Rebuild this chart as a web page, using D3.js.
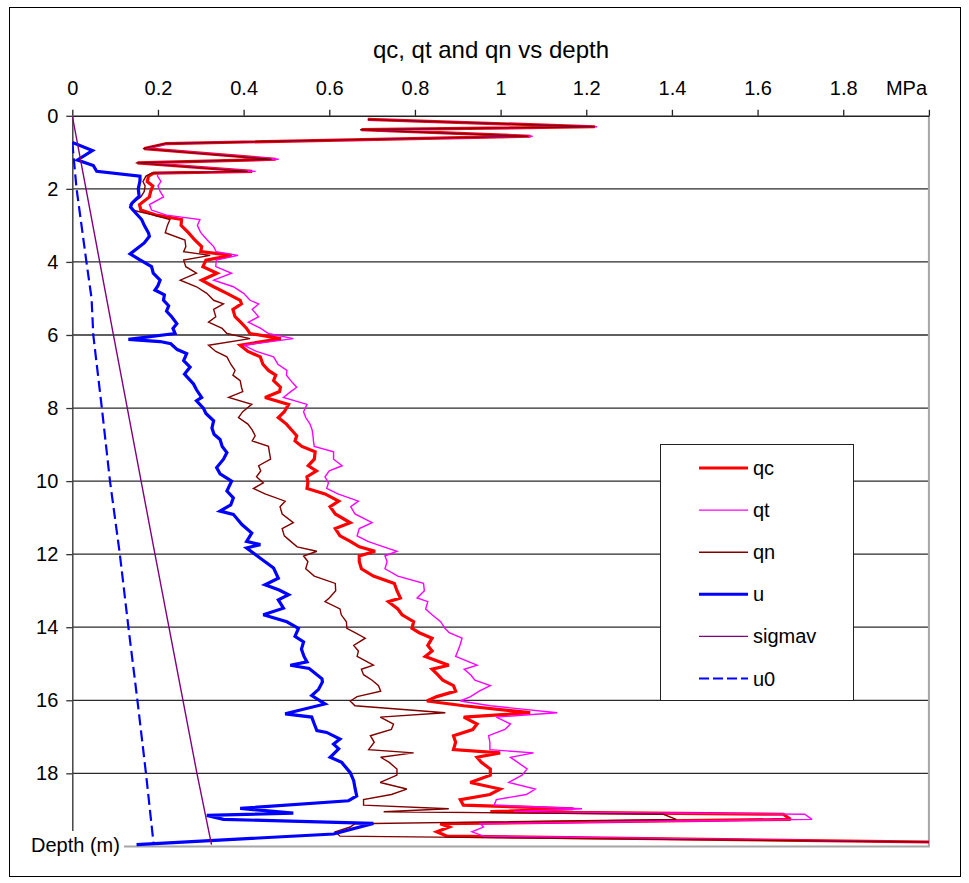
<!DOCTYPE html>
<html><head><meta charset="utf-8">
<script src="https://cdn.jsdelivr.net/npm/d3@7"></script>
<style>
body{margin:0;background:#fff}
svg{display:block}
text{font-family:"Liberation Sans",Arial,sans-serif;fill:#000}
</style>
</head><body>
<svg id="c" width="969" height="883"></svg>
<script>
// ---------- data ----------
const title = "qc, qt and qn vs depth";
const xTicks = [0, 0.2, 0.4, 0.6, 0.8, 1, 1.2, 1.4, 1.6, 1.8, 2];
const xTickLabels = ["0", "0.2", "0.4", "0.6", "0.8", "1", "1.2", "1.4", "1.6", "1.8", ""];
const xUnit = "MPa";
const yTicks = [0, 2, 4, 6, 8, 10, 12, 14, 16, 18];
const yTitle = "Depth (m)";
const seriesNames = ["qc", "qt", "qn", "u", "sigmav", "u0"];

const depth = [
  0.1, 0.3, 0.38, 0.56, 0.76, 0.9, 1.19, 1.29, 1.52, 1.57, 1.65,
  1.8, 1.92, 2.07, 2.22, 2.43, 2.58, 2.72, 2.84, 3.0, 3.2,
  3.4, 3.58, 3.72, 3.82, 3.95, 4.13, 4.31, 4.5, 4.68, 4.86,
  5.05, 5.15, 5.3, 5.5, 5.65, 5.82, 5.96, 6.1, 6.28, 6.45,
  6.6, 6.8, 6.97, 7.1, 7.25, 7.43, 7.55, 7.71, 7.9, 8.1,
  8.26, 8.44, 8.6, 8.76, 8.9, 9.05, 9.2, 9.4, 9.58, 9.72,
  9.88, 10.05, 10.2, 10.35, 10.55, 10.7, 10.9, 11.14, 11.3, 11.5,
  11.65, 11.8, 11.92, 12.05, 12.2, 12.4, 12.6, 12.8, 13.0, 13.2,
  13.3, 13.5, 13.66, 13.85, 14.03, 14.15, 14.3, 14.5, 14.65, 14.8,
  15.04, 15.15, 15.3, 15.45, 15.6, 15.75, 15.9, 16.02, 16.15, 16.34,
  16.46, 16.65, 16.8, 16.97, 17.15, 17.35, 17.44, 17.56, 17.7, 17.88,
  18.05, 18.25, 18.43, 18.58, 18.72, 18.87, 18.97, 19.05, 19.12, 19.26,
  19.38, 19.47, 19.6, 19.72, 19.88
];
const qc = [
  0.69, 1.22, 0.675, 1.07, 0.22, 0.168, 0.475, 0.152, 0.42, 0.19, 0.178,
  0.175, 0.188, 0.183, 0.18, 0.157, 0.16, 0.197, 0.255, 0.254, 0.271,
  0.286, 0.302, 0.30, 0.372, 0.312, 0.305, 0.338, 0.302, 0.33, 0.361,
  0.392, 0.395, 0.375, 0.38, 0.393, 0.407, 0.415, 0.487, 0.392, 0.41,
  0.439, 0.445, 0.458, 0.475, 0.47, 0.486, 0.484, 0.45, 0.505, 0.495,
  0.481, 0.5, 0.512, 0.524, 0.52, 0.536, 0.567, 0.565, 0.551, 0.57,
  0.548, 0.55, 0.548, 0.59, 0.622, 0.602, 0.614, 0.649, 0.614, 0.625,
  0.649, 0.67, 0.707, 0.67, 0.67, 0.675, 0.703, 0.752, 0.758, 0.766,
  0.738, 0.76, 0.77, 0.797, 0.793, 0.81, 0.84, 0.83, 0.84, 0.824,
  0.879, 0.84, 0.853, 0.865, 0.89, 0.895, 0.851, 0.828, 0.914, 1.069,
  0.914, 0.945, 0.935, 0.89, 0.895, 0.89, 0.999, 0.945, 0.955, 0.976,
  0.976, 0.929, 0.999, 0.975, 0.906, 0.913, 1.17, 0.976, 1.66, 1.677,
  0.859, 0.88, 0.851, 0.875, 2.0
];
const qt = [
  0.69, 1.225, 0.678, 1.075, 0.222, 0.17, 0.482, 0.155, 0.428, 0.2, 0.199,
  0.207, 0.2, 0.205, 0.213, 0.18, 0.185, 0.22, 0.298, 0.292, 0.3,
  0.315, 0.33, 0.336, 0.387, 0.336, 0.335, 0.372, 0.33, 0.376, 0.4,
  0.415, 0.435, 0.42, 0.435, 0.411, 0.44, 0.458, 0.516, 0.4, 0.43,
  0.47, 0.48, 0.501, 0.5, 0.51, 0.524, 0.51, 0.493, 0.548, 0.54,
  0.545, 0.555, 0.56, 0.562, 0.563, 0.565, 0.61, 0.61, 0.63, 0.6,
  0.59, 0.598, 0.594, 0.62, 0.668, 0.65, 0.66, 0.7, 0.67, 0.665,
  0.69, 0.727, 0.758, 0.73, 0.735, 0.73, 0.76, 0.82, 0.822, 0.805,
  0.83, 0.825, 0.84, 0.86, 0.87, 0.88, 0.91, 0.905, 0.9, 0.895,
  0.945, 0.915, 0.93, 0.94, 0.976, 0.95, 0.93, 0.906, 0.976, 1.132,
  0.99, 1.023, 1.01, 0.972, 0.975, 0.975, 1.077, 1.023, 1.04, 1.062,
  1.05, 1.019, 1.081, 1.06, 0.99, 0.985, 1.19, 1.03, 1.71, 1.727,
  0.953, 0.96, 0.933, 0.96, 2.0
];
const qn = [
  0.69, 1.22, 0.672, 1.065, 0.218, 0.165, 0.465, 0.148, 0.41, 0.185, 0.172,
  0.165, 0.17, 0.168, 0.16, 0.135, 0.14, 0.19, 0.228, 0.222, 0.217,
  0.263, 0.265, 0.26, 0.322, 0.26, 0.265, 0.29, 0.252, 0.29, 0.314,
  0.33, 0.353, 0.33, 0.335, 0.318, 0.35, 0.361, 0.415, 0.318, 0.335,
  0.361, 0.37, 0.38, 0.375, 0.392, 0.395, 0.398, 0.365, 0.419, 0.398,
  0.388, 0.41, 0.42, 0.427, 0.42, 0.458, 0.46, 0.463, 0.435, 0.44,
  0.43, 0.446, 0.423, 0.45, 0.497, 0.485, 0.49, 0.516, 0.49, 0.495,
  0.51, 0.525, 0.571, 0.54, 0.55, 0.545, 0.565, 0.614, 0.615, 0.6,
  0.59, 0.625, 0.628, 0.64, 0.641, 0.66, 0.684, 0.657, 0.668, 0.665,
  0.703, 0.675, 0.68, 0.7, 0.715, 0.72, 0.665, 0.649, 0.66, 0.871,
  0.719, 0.75, 0.745, 0.696, 0.705, 0.692, 0.797, 0.72, 0.74, 0.758,
  0.758, 0.719, 0.781, 0.745, 0.68, 0.68, 0.879, 0.727, 1.38, 1.41,
  0.66, 0.649, 0.614, 0.625, 2.0
];
const uDepth = [
  0.73, 0.95, 1.21, 1.36, 1.52, 1.65, 1.78, 2.0, 2.2, 2.4,
  2.5, 2.66, 2.84, 3.0, 3.21, 3.3, 3.48, 3.78, 3.94, 4.13,
  4.31, 4.5, 4.65, 4.77, 4.9, 5.05, 5.2, 5.35, 5.5, 5.69,
  5.82, 5.96, 6.12, 6.18, 6.24, 6.4, 6.51, 6.7, 6.88, 7.07,
  7.34, 7.5, 7.71, 7.8, 8.0, 8.15, 8.35, 8.55, 8.72, 8.86,
  9.05, 9.22, 9.4, 9.63, 9.8, 10.0, 10.27, 10.46, 10.65, 10.82,
  10.91, 11.19, 11.42, 11.65, 11.74, 11.83, 12.11, 12.38, 12.66, 12.84,
  12.98, 13.11, 13.25, 13.48, 13.66, 13.85, 14.03, 14.25, 14.4, 14.6,
  14.8, 14.95, 15.04, 15.13, 15.41, 15.5, 15.7, 15.87, 16.1, 16.37,
  16.46, 16.65, 16.83, 16.88, 17.06, 17.2, 17.33, 17.56, 17.7, 17.98,
  18.2, 18.4, 18.62, 18.75, 18.96, 19.09, 19.15, 19.26, 19.37, 19.66,
  19.95
];
const u = [
  0, 0.047, 0.012, 0.049, 0.057, 0.158, 0.158, 0.154, 0.156, 0.139,
  0.136, 0.148, 0.162, 0.168, 0.178, 0.18, 0.168, 0.135, 0.157, 0.185,
  0.189, 0.205, 0.2, 0.193, 0.215, 0.213, 0.225, 0.22, 0.232, 0.244,
  0.235, 0.24, 0.131, 0.205, 0.23, 0.245, 0.267, 0.26, 0.275, 0.262,
  0.283, 0.29, 0.302, 0.29, 0.306, 0.312, 0.33, 0.326, 0.331, 0.345,
  0.35, 0.361, 0.353, 0.337, 0.345, 0.372, 0.361, 0.376, 0.37, 0.345,
  0.376, 0.396, 0.419, 0.407, 0.439, 0.407, 0.439, 0.47, 0.481, 0.45,
  0.483, 0.505, 0.481, 0.493, 0.446, 0.501, 0.528, 0.52, 0.54, 0.535,
  0.541, 0.548, 0.509, 0.553, 0.583, 0.584, 0.575, 0.559, 0.59, 0.497,
  0.559, 0.565, 0.571, 0.594, 0.625, 0.61, 0.622, 0.602, 0.629, 0.649,
  0.657, 0.66, 0.664, 0.645, 0.392, 0.516, 0.314, 0.353, 0.703, 0.61,
  0.15
];
const u0Depth = [0.73, 2, 4, 5, 6, 8, 10, 12, 14, 16, 18, 19.95];
const u0 = [0, 0.01, 0.033, 0.045, 0.049, 0.069, 0.088, 0.111, 0.131, 0.152, 0.172, 0.19];
const sigDepth = [0, 6, 12, 18, 19.95];
const sigmav = [0, 0.096, 0.193, 0.291, 0.325];

// ---------- layout ----------
const svg = d3.select("#c");
const x = d3.scaleLinear().domain([0, 2]).range([72.3, 928.9]);
const y = d3.scaleLinear().domain([0, 20]).range([115.8, 846.4]);

svg.append("rect").attr("x", 9.5).attr("y", 7.5).attr("width", 951).attr("height", 869)
  .attr("fill", "#fff").attr("stroke", "#000").attr("stroke-width", 1);

svg.append("text").attr("x", 491).attr("y", 58).attr("text-anchor", "middle")
  .style("font-size", "24px").text(title);

// gridlines
svg.append("g").selectAll("line").data(yTicks.filter(d => d > 0)).join("line")
  .attr("x1", x(0)).attr("x2", x(2)).attr("y1", d => y(d)).attr("y2", d => y(d))
  .attr("stroke", "#2a2a2a").attr("stroke-width", 1.3);

// plot border right/bottom
svg.append("path")
  .attr("d", `M${x(2)},${y(0)}V${y(20)}H${x(0)}`)
  .attr("fill", "none").attr("stroke", "#a6a6a6").attr("stroke-width", 2);

// axes
const gx = svg.append("g").attr("transform", `translate(0,${y(0)})`)
  .call(d3.axisTop(x).tickValues(xTicks).tickSize(6).tickSizeOuter(0)
    .tickFormat((d, i) => xTickLabels[i]));
gx.select(".domain").attr("stroke", "#222").attr("stroke-width", 1.5);
gx.selectAll(".tick line").attr("stroke", "#222").attr("stroke-width", 1.3);
gx.selectAll(".tick text").attr("y", -21).style("font-size", "20px").style("font-family", '"Liberation Sans",Arial,sans-serif');
svg.append("text").attr("x", 927).attr("y", y(0) - 21).attr("text-anchor", "end")
  .style("font-size", "20px").text(xUnit);

const gy = svg.append("g").attr("transform", `translate(${x(0)},0)`)
  .call(d3.axisLeft(y).tickValues(yTicks).tickSize(6).tickSizeOuter(0).tickFormat(d3.format("d")));
gy.select(".domain").attr("stroke", "#444").attr("stroke-width", 1.5);
gy.selectAll(".tick line").attr("stroke", "#333").attr("stroke-width", 1.3);
gy.selectAll(".tick text").attr("x", -14).style("font-size", "20px").style("font-family", '"Liberation Sans",Arial,sans-serif');

// series
svg.append("clipPath").attr("id", "plot").append("rect")
  .attr("x", x(0)).attr("y", y(0) - 2).attr("width", x(2) - x(0) + 3).attr("height", y(20) - y(0) + 4);
const plot = svg.append("g").attr("clip-path", "url(#plot)");
const line = d3.line().x(d => x(d[1])).y(d => y(d[0]));
const zip = (a, b) => a.map((d, i) => [d, b[i]]);

const styles = {
  qc: {color: "#ff0000", w: 3.2, dash: null},
  qt: {color: "#ff00ff", w: 1.4, dash: null},
  qn: {color: "#800000", w: 1.4, dash: null},
  u: {color: "#0000ff", w: 3.2, dash: null},
  sigmav: {color: "#800080", w: 1.4, dash: null},
  u0: {color: "#0000ff", w: 2.2, dash: "11,5"}
};
const seriesData = {
  qc: zip(depth, qc), qt: zip(depth, qt), qn: zip(depth, qn),
  u: zip(uDepth, u), sigmav: zip(sigDepth, sigmav), u0: zip(u0Depth, u0)
};
seriesNames.forEach(n => {
  const s = styles[n];
  plot.append("path").datum(seriesData[n]).attr("d", line)
    .attr("fill", "none").attr("stroke", s.color).attr("stroke-width", s.w)
    .attr("stroke-linejoin", "miter").attr("stroke-miterlimit", 3)
    .attr("stroke-dasharray", s.dash);
});

// y title with white background
svg.append("rect").attr("x", 28).attr("y", 831).attr("width", 96).attr("height", 28).attr("fill", "#fff");
svg.append("text").attr("x", 31).attr("y", 852).style("font-size", "20px").text(yTitle);

// legend
const lg = svg.append("g");
lg.append("rect").attr("x", 660.5).attr("y", 444.5).attr("width", 193).attr("height", 256)
  .attr("fill", "#fff").attr("stroke", "#222").attr("stroke-width", 1);
seriesNames.forEach((n, i) => {
  const s = styles[n];
  const ry = 468 + i * 42.1;
  lg.append("line").attr("x1", 699).attr("x2", 748).attr("y1", ry).attr("y2", ry)
    .attr("stroke", s.color).attr("stroke-width", s.w > 2.5 ? 3 : (n === "u0" ? 2.2 : 1.4))
    .attr("stroke-dasharray", s.dash ? "10,4" : null);
  lg.append("text").attr("x", 753).attr("y", ry + 7).style("font-size", "20px").text(n);
});
</script>
</body></html>
